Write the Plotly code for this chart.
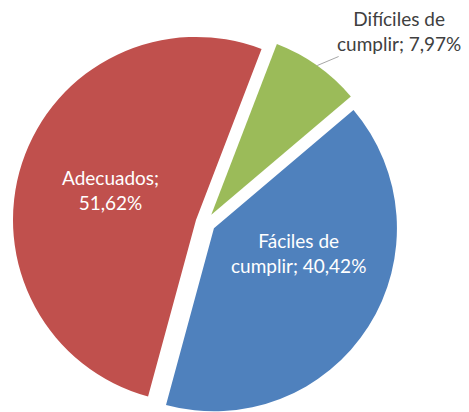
import math
import plotly.graph_objects as go

labels = ["Difíciles de cumplir", "Fáciles de cumplir", "Adecuados"]
label_text = ["Difíciles de<br>cumplir; 7,97%", "Fáciles de<br>cumplir; 40,42%", "Adecuados;<br>51,62%"]
values = [7.97, 40.42, 51.62]
colors = ["#9BBB59", "#4F81BD", "#C0504D"]

W, H = 469, 412
OFF = 8.0                  # page body margin of the browser
CX, CY = 205.5 - OFF, 223.0 - OFF   # pie centre (px)
R = 183.0                  # radius (px)
PULL = 10.0                # explosion offset (px)
ROT = 21.0                 # first slice start, degrees clockwise from 12 o'clock

total = sum(values)
fig = go.Figure()
start = ROT
centers = []
for i, v in enumerate(values):
    span = 360.0 * v / total
    mid = math.radians(start + span / 2)
    cx = CX + PULL * math.sin(mid)
    cy = CY - PULL * math.cos(mid)
    centers.append((cx, cy, mid))
    start += span
    cols = [colors[j] if j == i else "rgba(0,0,0,0)" for j in range(len(values))]
    fig.add_trace(go.Pie(
        labels=labels,
        values=values,
        textinfo="none",
        marker=dict(colors=cols, line=dict(width=0)),
        sort=False,
        direction="clockwise",
        rotation=ROT,
        domain=dict(x=[(cx - R) / W, (cx + R) / W],
                    y=[max(0, (H - (cy + R)) / H), min(1, (H - (cy - R)) / H)]),
        showlegend=False,
        hoverinfo="none",
    ))

def px(x, y):
    return x / W, 1 - y / H

# inside labels
lab_pos = {2: (110 - OFF, 190 - OFF), 1: (298 - OFF, 253 - OFF)}
for i, (x, y) in lab_pos.items():
    ax_, ay_ = px(x, y)
    fig.add_annotation(x=ax_, y=ay_, xref="paper", yref="paper", text=label_text[i],
                       showarrow=False, xanchor="center", yanchor="middle",
                       font=dict(family="Lato", size=19, color="white"))

# outside label for the small slice, with leader line from the arc
gcx, gcy, gmid = centers[0]
hx = gcx + R * math.sin(gmid)
hy = gcy - R * math.cos(gmid)
hxp, hyp = px(hx, hy)
fig.add_annotation(x=hxp, y=hyp, xref="paper", yref="paper", text=label_text[0],
                   showarrow=True, arrowhead=0, arrowwidth=1, arrowcolor="#A6A6A6",
                   ax=(399 - OFF) - hx, ay=(31 - OFF) - hy, standoff=0,
                   font=dict(family="Lato", size=19, color="#404040"))

fig.update_layout(
    width=W, height=H,
    margin=dict(l=0, r=0, t=0, b=0),
    paper_bgcolor="white",
    plot_bgcolor="white",
)

fig.write_html("out.html")
